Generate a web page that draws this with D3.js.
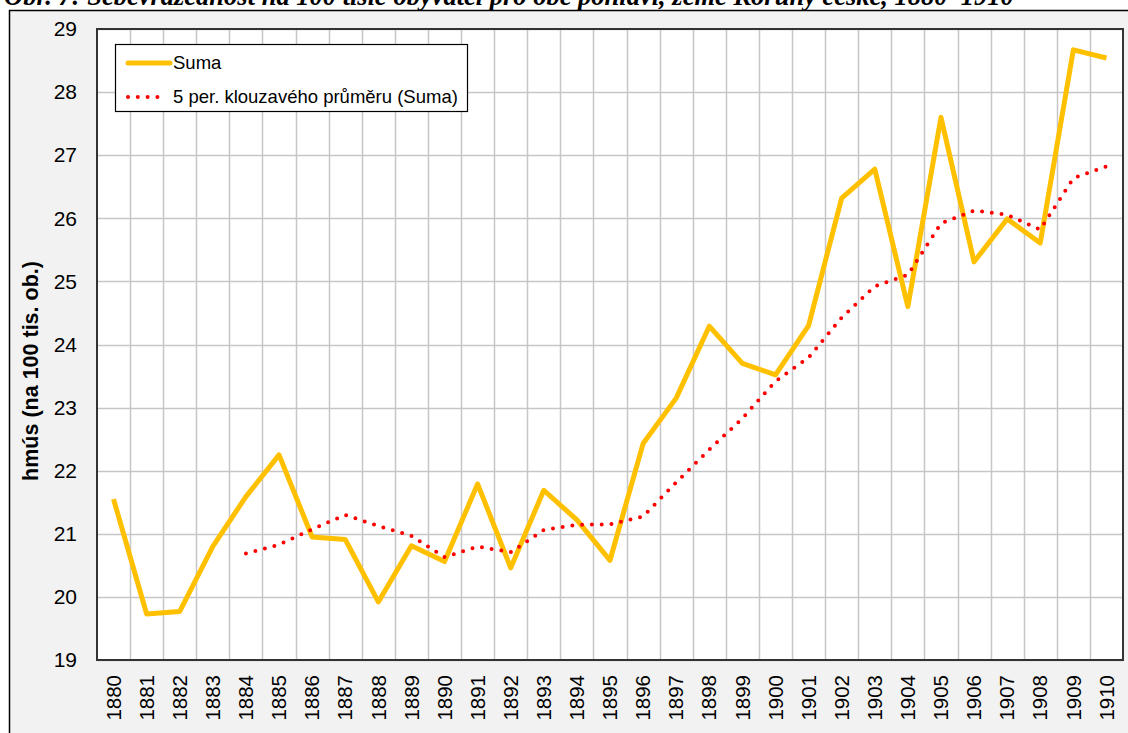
<!DOCTYPE html>
<html>
<head>
<meta charset="utf-8">
<script src="https://cdn.jsdelivr.net/npm/d3@7"></script>
<style>
  body { margin: 0; background: #fff; }
  svg { display: block; font-family: Arial, "Liberation Sans", sans-serif; }
</style>
</head>
<body>
<div id="chart"></div>
<script>
const years = d3.range(1880, 1911).map(String);
const suma = [21.55, 19.73, 19.77, 20.80, 21.59, 22.25, 20.95, 20.91, 19.92, 20.81,
              20.56, 21.79, 20.46, 21.69, 21.22, 20.58, 22.43, 23.15, 24.29, 23.70,
              23.52, 24.30, 26.32, 26.78, 24.60, 27.60, 25.31, 25.99, 25.61, 28.67, 28.54];
const yTicks = [19, 20, 21, 22, 23, 24, 25, 26, 27, 28, 29];
const titleText = "Obr. 7: Sebevražednost na 100 tisíc obyvatel pro obě pohlaví, země Koruny české, 1880–1910";
const yTitle = "hmús (na 100 tis. ob.)";
const legendNames = ["Suma", "5 per. klouzavého průměru (Suma)"];
const period = 5;

const W = 1128, H = 733;
const plot = { left: 97, top: 29, right: 1123, bottom: 660 };

const svg = d3.select("#chart").append("svg")
    .attr("width", W)
    .attr("height", H);

// chart area background
svg.append("rect")
    .attr("x", 9.5).attr("y", 10.5)
    .attr("width", W + 20).attr("height", H + 20)
    .attr("fill", "#f2f2f2")
    .attr("stroke", "#000")
    .attr("stroke-width", 1.5);

// title (cut off at the top, as in the source)
svg.append("text")
    .attr("x", 4)
    .attr("y", 5)
    .attr("font-family", "'Liberation Serif', 'Times New Roman', serif")
    .attr("font-weight", "bold")
    .attr("font-style", "italic")
    .attr("font-size", 26.5)
    .text(titleText);

const x = d3.scaleBand().domain(years).range([plot.left, plot.right]);
const y = d3.scaleLinear().domain([19, 29]).range([plot.bottom, plot.top]);

svg.append("rect")
    .attr("x", plot.left).attr("y", plot.top)
    .attr("width", plot.right - plot.left).attr("height", plot.bottom - plot.top)
    .attr("fill", "#fff");

// gridlines
svg.append("g")
    .selectAll("line")
    .data(yTicks)
    .join("line")
    .attr("x1", plot.left).attr("x2", plot.right)
    .attr("y1", d => Math.round(y(d)) + 0.5).attr("y2", d => Math.round(y(d)) + 0.5)
    .attr("stroke", "#c6c6c6")
    .attr("stroke-width", 1.5);

svg.append("g")
    .selectAll("line")
    .data(years.slice(1))
    .join("line")
    .attr("x1", d => Math.round(x(d)) + 0.5).attr("x2", d => Math.round(x(d)) + 0.5)
    .attr("y1", plot.top).attr("y2", plot.bottom)
    .attr("stroke", "#c6c6c6")
    .attr("stroke-width", 1.5);

// plot border
svg.append("rect")
    .attr("x", plot.left).attr("y", plot.top)
    .attr("width", plot.right - plot.left).attr("height", plot.bottom - plot.top)
    .attr("fill", "none")
    .attr("stroke", "#333")
    .attr("stroke-width", 2);

// y axis
const yAxis = svg.append("g")
    .attr("transform", `translate(${plot.left},0)`)
    .call(d3.axisLeft(y).tickValues(yTicks).tickSize(0).tickPadding(20));
yAxis.select(".domain").remove();
yAxis.selectAll("text")
    .attr("font-size", 21)
    .attr("font-family", "Arial, 'Liberation Sans', sans-serif")
    .attr("fill", "#000");

// x axis
const xAxis = svg.append("g")
    .attr("transform", `translate(0,${plot.bottom})`)
    .call(d3.axisBottom(x).tickSize(0));
xAxis.select(".domain").remove();
xAxis.selectAll("text")
    .attr("font-size", 20.5)
    .attr("font-family", "Arial, 'Liberation Sans', sans-serif")
    .attr("fill", "#000")
    .attr("text-anchor", "end")
    .attr("transform", "rotate(-90)")
    .attr("dy", "0.35em")
    .attr("x", -15)
    .attr("y", 0);

// y title
svg.append("text")
    .attr("transform", "translate(38,371) rotate(-90)")
    .attr("text-anchor", "middle")
    .attr("font-size", 21.5)
    .attr("font-weight", "bold")
    .text(yTitle);

// series
const pts = years.map((yr, i) => ({ yr, v: suma[i] }));
const avg = pts.slice(period - 1).map((d, i) => ({
    yr: d.yr,
    v: d3.mean(suma.slice(i, i + period))
}));

const line = d3.line()
    .x(d => x(d.yr) + x.bandwidth() / 2)
    .y(d => y(d.v));

svg.append("path")
    .datum(pts)
    .attr("d", line)
    .attr("fill", "none")
    .attr("stroke", "#ffc000")
    .attr("stroke-width", 5)
    .attr("stroke-linejoin", "round");

svg.append("path")
    .datum(avg)
    .attr("d", line)
    .attr("fill", "none")
    .attr("stroke", "#ff0000")
    .attr("stroke-width", 4)
    .attr("stroke-linecap", "round")
    .attr("stroke-dasharray", "0 9.8");

// legend
const lg = svg.append("g").attr("transform", "translate(115,44)");
lg.append("rect")
    .attr("x", 0.5).attr("y", 0.5)
    .attr("width", 352).attr("height", 67)
    .attr("fill", "#fff")
    .attr("stroke", "#000")
    .attr("stroke-width", 1.2);

lg.append("line")
    .attr("x1", 13).attr("x2", 55).attr("y1", 19).attr("y2", 19)
    .attr("stroke", "#ffc000").attr("stroke-width", 5).attr("stroke-linecap", "round");
lg.append("line")
    .attr("x1", 13).attr("x2", 50).attr("y1", 53).attr("y2", 53)
    .attr("stroke", "#ff0000").attr("stroke-width", 4)
    .attr("stroke-linecap", "round").attr("stroke-dasharray", "0 9.8");

lg.selectAll("text.lbl")
    .data(legendNames)
    .join("text")
    .attr("class", "lbl")
    .attr("x", 58)
    .attr("y", (d, i) => 19 + i * 34)
    .attr("dy", "0.35em")
    .attr("font-size", 18.5)
    .text(d => d);
</script>
</body>
</html>
